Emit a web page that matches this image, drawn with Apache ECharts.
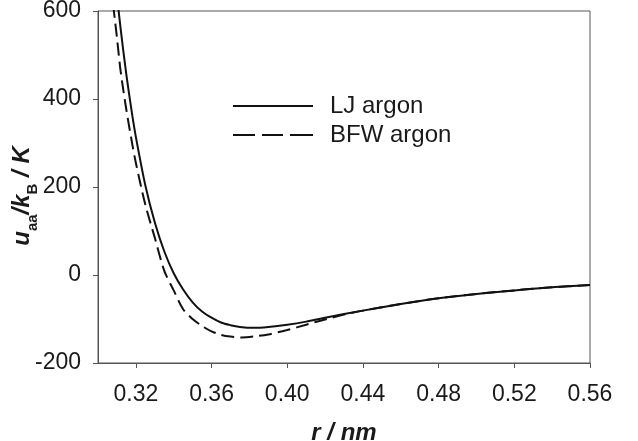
<!DOCTYPE html>
<html>
<head>
<meta charset="utf-8">
<script src="https://cdn.jsdelivr.net/npm/echarts@6/dist/echarts.min.js"></script>
<style>
  html, body { margin: 0; padding: 0; background: #fff; }
  #chart { width: 638px; height: 441px; }
</style>
</head>
<body>
<div id="chart"></div>
<script>
// r in nm, u/kB in K
const ljR = [0.310, 0.312, 0.315, 0.318, 0.320, 0.325, 0.330, 0.335, 0.340, 0.345, 0.350,
  0.355, 0.360, 0.365, 0.370, 0.375, 0.382, 0.390, 0.400, 0.410, 0.420, 0.440, 0.460,
  0.480, 0.500, 0.520, 0.540, 0.560];
const ljU = [636, 558, 455, 366, 314, 204, 120, 54, 4, -33, -62,
  -83, -97, -108, -114, -118, -120, -118, -113, -106, -97, -81, -66,
  -53, -43, -35, -28, -23];

const bfwR = [0.308, 0.310, 0.312, 0.315, 0.318, 0.320, 0.325, 0.330, 0.335, 0.340, 0.345,
  0.350, 0.355, 0.360, 0.365, 0.370, 0.376, 0.382, 0.390, 0.400, 0.410, 0.420, 0.430,
  0.440, 0.460, 0.480, 0.500, 0.520, 0.540, 0.560];
const bfwU = [614, 540, 462, 375, 300, 255, 160, 85, 10, -35, -78,
  -100, -116, -128, -136, -140, -142, -140, -135, -125, -113, -101, -90,
  -81, -66, -53, -43, -35, -28, -23];

const xTicks = [0.32, 0.36, 0.40, 0.44, 0.48, 0.52, 0.56];

const pair = (xs, ys) => xs.map((x, i) => [x, ys[i]]);

const chart = echarts.init(document.getElementById("chart"), null, { renderer: "canvas" });

const font = "Liberation Sans, Arial, sans-serif";
const axisColor = "#555";
const textColor = "#1a1a1a";
const lineColor = "#111";

// legend keys drawn as filled strips (solid / three dashes)
const solidKey = "path://M0,0h80v2h-80z";
const dashKey = "path://M0,0h22v2h-22zM29,0h21v2h-21zM57,0h23v2h-23z";

chart.setOption({
  animation: false,
  backgroundColor: "#fff",
  grid: {
    left: 98, right: 48, top: 11, bottom: 78,
    outerBoundsMode: "none",
    show: true, borderColor: axisColor, borderWidth: 1
  },
  legend: {
    orient: "vertical",
    left: 233, top: 94,
    padding: 0,
    itemWidth: 80, itemHeight: 2, itemGap: 5,
    selectedMode: false,
    textStyle: { fontFamily: font, fontSize: 24, color: textColor, lineHeight: 24, padding: [0, 0, 0, 12] },
    data: [
      { name: "LJ argon", icon: solidKey, itemStyle: { color: lineColor } },
      { name: "BFW argon", icon: dashKey, itemStyle: { color: lineColor } }
    ]
  },
  xAxis: {
    type: "value",
    min: 0.30, max: 0.56,
    name: "r / nm",
    nameLocation: "middle",
    nameGap: 58,
    nameMoveOverlap: false,
    nameTextStyle: { fontFamily: font, fontSize: 24, fontWeight: "bold", fontStyle: "italic", color: textColor },
    splitLine: { show: false },
    axisLine: { onZero: false, lineStyle: { color: axisColor, width: 1 } },
    axisTick: { show: true, inside: false, length: 5, customValues: xTicks, lineStyle: { color: axisColor } },
    axisLabel: {
      customValues: xTicks,
      margin: 20,
      fontFamily: font, fontSize: 23, color: textColor,
      formatter: (v) => v.toFixed(2)
    }
  },
  yAxis: {
    type: "value",
    min: -200, max: 600, interval: 200,
    name: "{b|u}{s|aa}{b|/k}{s|B}{b| / K}",
    nameLocation: "middle",
    nameRotate: 90,
    nameGap: 58,
    nameMoveOverlap: false,
    nameTextStyle: {
      padding: [0, 18, 0, 0],
      rich: {
        b: { fontFamily: font, fontSize: 24, fontWeight: "bold", fontStyle: "italic", color: textColor, verticalAlign: "bottom", padding: [0, 0, 6, 0] },
        s: { fontFamily: font, fontSize: 15, fontWeight: "bold", color: textColor, verticalAlign: "bottom" }
      }
    },
    splitLine: { show: false },
    axisLine: { show: true, onZero: false, lineStyle: { color: axisColor, width: 1 } },
    axisTick: { show: true, inside: false, length: 5, lineStyle: { color: axisColor } },
    axisLabel: { margin: 17, fontFamily: font, fontSize: 23, color: textColor }
  },
  series: [
    {
      name: "LJ argon",
      type: "line",
      data: pair(ljR, ljU),
      smooth: 0.3,
      showSymbol: false,
      symbol: "none",
      clip: true,
      itemStyle: { color: lineColor },
      lineStyle: { color: lineColor, width: 2, type: "solid" }
    },
    {
      name: "BFW argon",
      type: "line",
      data: pair(bfwR, bfwU),
      smooth: 0.3,
      showSymbol: false,
      symbol: "none",
      clip: true,
      itemStyle: { color: lineColor },
      lineStyle: { color: lineColor, width: 2, type: [13, 6] }
    }
  ]
});
</script>
</body>
</html>
